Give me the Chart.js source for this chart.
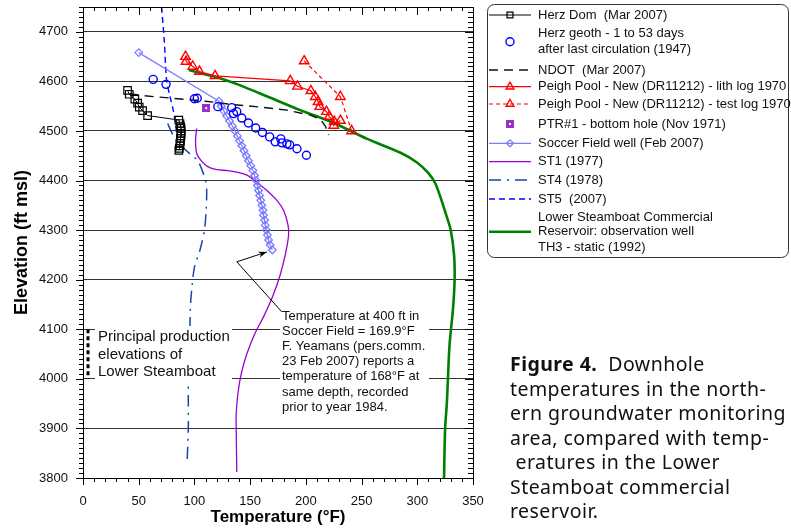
<!DOCTYPE html>
<html><head><meta charset="utf-8">
<script src="https://cdn.jsdelivr.net/npm/chart.js@4.4.0/dist/chart.umd.min.js"></script>
<style>
html,body{margin:0;padding:0;background:#fff;}
#wrap{position:relative;width:791px;height:531px;overflow:hidden;}
#c{position:absolute;left:0;top:0;}
#cap{position:absolute;left:510px;top:352px;width:285px;font-family:"Noto Sans","Open Sans",sans-serif;font-size:19.5px;letter-spacing:0.45px;line-height:24.5px;color:#111;white-space:nowrap;}
</style></head><body>
<div id="wrap"><canvas id="c" width="791" height="531"></canvas>
<div id="cap"><b>Figure 4.</b>&nbsp; Downhole<br>temperatures in the north-<br>ern groundwater monitoring<br>area, compared with temp-<br>&nbsp;eratures in the Lower<br>Steamboat commercial<br>reservoir.</div>
</div>
<script>
// ---------- DATA ----------
const xTicks = [0,50,100,150,200,250,300,350];
const yTicks = [3800,3900,4000,4100,4200,4300,4400,4500,4600,4700];

const herzDomT = [40,41.5,46.5,49,50.5,53.5,58,86,87,87.5,88,88,88,88,87.5,87.5,87,87,86.5,86];
const herzDomE = [4582,4574,4564,4556,4548,4541,4531,4522,4515,4510,4505,4500,4495,4490,4485,4480,4475,4470,4465,4461];

const herzGeoT = [63,74.5,100,102.5,121,133.5,135,138,142.5,148.5,155,161,167.5,172.5,177.5,178.5,183,185.5,192,200.5];
const herzGeoE = [4604,4594,4565,4566,4549,4547,4535,4539,4526,4516,4506,4497,4488,4478,4484,4476,4474,4472,4464,4451];

const ndotT = [42,55,80,110,135,160,183,204,213,217.5,219,220.5];
const ndotE = [4575,4571,4566,4560,4553,4548,4542,4532,4523,4510,4500,4492];

const peighLithT = [92,92.5,98.5,104.5,118.5,186,192.5,204.5,208.5,211,212.5,218.5,221,225.5,225,231];
const peighLithE = [4650,4640,4630,4620,4611,4601,4590,4581,4569,4559,4549,4539,4529,4519,4511,4521];

const peighTestT = [198.5,231,241];
const peighTestE = [4641,4569,4500];

const ptrT = [110.5];
const ptrE = [4546];

const soccerT = [50,122,124,126.5,129,131.5,134,136.5,138.5,140.5,142.5,144.5,146.5,148.5,150.5,152.5,154,155.5,156.5,157.5,158.5,159.5,160.5,161.5,162,163,163.5,164.5,165.5,166.5,168,169.9];
const soccerE = [4658,4560,4550,4540,4530,4520,4510,4500,4490,4480,4470,4460,4450,4440,4430,4420,4410,4400,4390,4380,4370,4360,4350,4340,4330,4320,4310,4300,4290,4280,4270,4260];

const st1T = [102,101,102,106,112,120,130,140,148,156,165,174,180,184,184.5,182,177,170,162,154,147,142,139,137.5,137.5,138];
const st1E = [4505,4480,4455,4440,4428,4422,4420,4416,4410,4396,4380,4360,4340,4310,4290,4255,4210,4165,4125,4090,4050,4010,3970,3930,3900,3812];

const st4T = [76,80,84,90,97,103,107,110,111,110.5,109,105,100,98,96.5,96,95,94.5,94.5,94.5,93.5];
const st4E = [4515,4495,4480,4466,4452,4440,4420,4400,4380,4340,4300,4260,4225,4190,4150,4110,4050,4000,3950,3900,3835];

const st5T = [70.5,73,75,78,81,83,84.5];
const st5E = [4750,4680,4603,4570,4542,4515,4484];

const th3T = [95,100,110,125,140,165,195,225,255,285,300,310,316,321,326,330,333,333.5,332,329,327.5,326.5,325,324];
const th3E = [4623,4620,4614,4605,4593,4570,4542,4516,4484,4456,4436,4415,4395,4365,4330,4300,4250,4200,4140,4070,4000,3950,3900,3800];

const prodT = [4.5,4.5];
const prodE = [4100,4000];

const arrowT = [178.5,138,165];
const arrowE = [4135,4236,4256];

const legendLabels = [
  ['Herz Dom  (Mar 2007)'],
  ['Herz geoth - 1 to 53 days','after last circulation (1947)'],
  ['NDOT  (Mar 2007)'],
  ['Peigh Pool - New (DR11212) - lith log 1970'],
  ['Peigh Pool - New (DR11212) - test log 1970'],
  ['PTR#1 - bottom hole (Nov 1971)'],
  ['Soccer Field well (Feb 2007)'],
  ['ST1 (1977)'],
  ['ST4 (1978)'],
  ['ST5  (2007)'],
  ['Lower Steamboat Commercial','Reservoir: observation well','TH3 - static (1992)']
];
const prodText = ['Principal production','elevations of','Lower Steamboat'];
const noteText = ['Temperature at 400 ft in','Soccer Field = 169.9\u00B0F','F. Yeamans (pers.comm.','23 Feb 2007) reports a','temperature of 168\u00B0F at','same depth, recorded','prior to year 1984.'];

// ---------- BUILD ----------
const FONT = '"Liberation Sans", Arial, Helvetica, sans-serif';
Chart.defaults.font.family = FONT;
const pts = (T,E) => T.map((t,i)=>({x:t,y:E[i]}));

const ptrMarker = document.createElement('canvas');
ptrMarker.width = 8; ptrMarker.height = 8;
(function(){const g=ptrMarker.getContext('2d');g.fillStyle='#9a2fc8';g.fillRect(0,0,8,8);g.fillStyle='#fff';g.fillRect(3,3,2,2);})();

const datasets = [
  {label:legendLabels[0][0], data:pts(herzDomT,herzDomE), showLine:true, borderColor:'#000', borderWidth:1,
   pointStyle:'rect', pointRadius:5.3, pointBorderColor:'#000', pointBackgroundColor:'rgba(0,0,0,0)', pointBorderWidth:1.2},
  {label:legendLabels[1][0], data:pts(herzGeoT,herzGeoE), showLine:false, borderColor:'#0000ff',
   pointStyle:'circle', pointRadius:4, pointBorderColor:'#0000ff', pointBackgroundColor:'rgba(0,0,0,0)', pointBorderWidth:1.4},
  {label:legendLabels[2][0], data:pts(ndotT,ndotE), showLine:true, borderColor:'#111', borderWidth:1.4, borderDash:[9,6], pointRadius:0},
  {label:legendLabels[3][0], data:pts(peighLithT,peighLithE), showLine:true, borderColor:'#ff0000', borderWidth:1.2,
   pointStyle:'triangle', pointRadius:5.5, pointBorderColor:'#ff0000', pointBackgroundColor:'rgba(0,0,0,0)', pointBorderWidth:1.4},
  {label:legendLabels[4][0], data:pts(peighTestT,peighTestE), showLine:true, borderColor:'#ff0000', borderWidth:1.2, borderDash:[4,3],
   pointStyle:'triangle', pointRadius:5.5, pointBorderColor:'#ff0000', pointBackgroundColor:'rgba(0,0,0,0)', pointBorderWidth:1.4},
  {label:legendLabels[5][0], data:pts(ptrT,ptrE), showLine:false, borderColor:'#9a2fc8', pointStyle:ptrMarker, pointRadius:4},
  {label:legendLabels[6][0], data:pts(soccerT,soccerE), showLine:true, borderColor:'#7b7bff', borderWidth:1.2,
   pointStyle:'rectRot', pointRadius:3.8, pointBorderColor:'#7b7bff', pointBackgroundColor:'rgba(0,0,0,0)', pointBorderWidth:1.3},
  {label:legendLabels[7][0], data:pts(st1T,st1E), showLine:true, borderColor:'#9a00d8', borderWidth:1.3, pointRadius:0, tension:0.3},
  {label:legendLabels[8][0], data:pts(st4T,st4E), showLine:true, borderColor:'#1646a8', borderWidth:1.5, borderDash:[12,6,2,6], pointRadius:0, tension:0.3},
  {label:legendLabels[9][0], data:pts(st5T,st5E), showLine:true, borderColor:'#0000ff', borderWidth:1.4, borderDash:[6,4], pointRadius:0, tension:0.3},
  {label:legendLabels[10][0], data:pts(th3T,th3E), showLine:true, borderColor:'#008000', borderWidth:2.6, pointRadius:0, tension:0.3}
];

const legendRowY = [15, 41.7, 70, 86.7, 104, 124, 143.3, 161.7, 180, 199, 231.7];

const customDraw = {
  id:'customDraw',
  afterDatasetsDraw(chart){
    const ctx = chart.ctx, xs = chart.scales.x, ys = chart.scales.y;
    ctx.save();
    ctx.fillStyle = '#fff';
    ctx.fillRect(95, 326, 137, 55);
    ctx.fillRect(84, 325, 12, 4);
    ctx.fillRect(280, 306, 149, 108);
    ctx.fillStyle = '#111';
    ctx.textAlign = 'left'; ctx.textBaseline = 'middle';
    ctx.font = '15px ' + FONT;
    prodText.forEach((t,i)=>ctx.fillText(t, 98, 337 + i*17.5));
    ctx.font = '13px ' + FONT;
    noteText.forEach((t,i)=>ctx.fillText(t, 282, 316.5 + i*15.1));
    ctx.strokeStyle = '#000'; ctx.lineWidth = 3; ctx.setLineDash([4,3]);
    ctx.beginPath();
    ctx.moveTo(xs.getPixelForValue(prodT[0]), ys.getPixelForValue(prodE[0]));
    ctx.lineTo(xs.getPixelForValue(prodT[1]), ys.getPixelForValue(prodE[1]));
    ctx.stroke();
    ctx.setLineDash([]);
    const p = arrowT.map((t,i)=>[xs.getPixelForValue(t), ys.getPixelForValue(arrowE[i])]);
    ctx.lineWidth = 1; ctx.strokeStyle = '#000';
    ctx.beginPath(); ctx.moveTo(p[0][0],p[0][1]); ctx.lineTo(p[1][0],p[1][1]); ctx.lineTo(p[2][0],p[2][1]); ctx.stroke();
    const ang = Math.atan2(p[2][1]-p[1][1], p[2][0]-p[1][0]);
    ctx.fillStyle = '#000'; ctx.beginPath();
    ctx.moveTo(p[2][0],p[2][1]);
    ctx.lineTo(p[2][0]-9*Math.cos(ang-0.35), p[2][1]-9*Math.sin(ang-0.35));
    ctx.lineTo(p[2][0]-6*Math.cos(ang), p[2][1]-6*Math.sin(ang));
    ctx.lineTo(p[2][0]-9*Math.cos(ang+0.35), p[2][1]-9*Math.sin(ang+0.35));
    ctx.closePath(); ctx.fill();
    ctx.restore();
  },
  afterDraw(chart){
    const ctx = chart.ctx, xs = chart.scales.x, ys = chart.scales.y, a = chart.chartArea;
    ctx.save();
    ctx.strokeStyle = '#000'; ctx.lineWidth = 1;
    ctx.strokeRect(Math.round(a.left)+0.5, Math.round(a.top)+0.5, Math.round(a.right-a.left), Math.round(a.bottom-a.top));
    ctx.beginPath();
    for (let t = xs.min; t <= xs.max; t += 10) {
      const px = Math.round(xs.getPixelForValue(t)) + 0.5, major = t % 50 === 0;
      ctx.moveTo(px, a.bottom); ctx.lineTo(px, a.bottom + (major ? 7 : 4));
      ctx.moveTo(px, a.top); ctx.lineTo(px, a.top + (major ? 8 : 4));
    }
    for (let e = ys.min; e <= ys.max; e += 10) {
      const py = Math.round(ys.getPixelForValue(e)) + 0.5, major = e % 100 === 0;
      ctx.moveTo(a.left - (major ? 7 : 4), py); ctx.lineTo(a.left, py);
      ctx.moveTo(a.right - (major ? 8 : 5), py); ctx.lineTo(a.right, py);
    }
    ctx.stroke();
    const L = 487.5, T = 4.5, W = 301, H = 253, r = 7;
    ctx.strokeStyle = '#333';
    ctx.beginPath();
    ctx.moveTo(L+r,T); ctx.lineTo(L+W-r,T); ctx.arcTo(L+W,T,L+W,T+r,r);
    ctx.lineTo(L+W,T+H-r); ctx.arcTo(L+W,T+H,L+W-r,T+H,r);
    ctx.lineTo(L+r,T+H); ctx.arcTo(L,T+H,L,T+H-r,r);
    ctx.lineTo(L,T+r); ctx.arcTo(L,T,L+r,T,r); ctx.closePath(); ctx.stroke();
    chart.data.datasets.forEach((ds,i)=>{
      const y = legendRowY[i];
      ctx.save();
      if (ds.showLine) {
        ctx.strokeStyle = ds.borderColor; ctx.lineWidth = ds.borderWidth || 1;
        ctx.setLineDash(ds.borderDash || []);
        ctx.beginPath(); ctx.moveTo(489, y); ctx.lineTo(531, y); ctx.stroke();
        ctx.setLineDash([]);
      }
      if (ds.pointRadius > 0) {
        ctx.strokeStyle = ds.pointBorderColor || ds.borderColor;
        ctx.fillStyle = ds.pointBackgroundColor || ds.borderColor;
        ctx.lineWidth = ds.pointBorderWidth || 1;
        let rad = ds.pointRadius;
        if (ds.pointStyle === 'rect') rad = 4.2;
        if (ds.pointStyle === 'triangle') rad = 4.5;
        if (ds.pointStyle === 'rectRot') rad = 3.5;
        Chart.helpers.drawPoint(ctx, {pointStyle: ds.pointStyle, rotation: 0, radius: rad, borderWidth: ds.pointBorderWidth || 1}, 510, y);
      }
      ctx.restore();
      const lines = legendLabels[i];
      ctx.fillStyle = '#111'; ctx.font = '13px ' + FONT; ctx.textAlign = 'left'; ctx.textBaseline = 'middle';
      const off = lines.length === 1 ? [0] : lines.length === 2 ? [-7.8, 8.2] : [-14.5, 0, 15.5];
      lines.forEach((t,k)=>ctx.fillText(t, 538, y + off[k]));
    });
    ctx.restore();
  }
};

new Chart(document.getElementById('c'), {
  type: 'scatter',
  data: { datasets },
  options: {
    responsive: false, animation: false,
    layout: { padding: { left: 0, right: 318, top: 7, bottom: 0 } },
    plugins: { legend: { display: false }, tooltip: { enabled: false } },
    elements: { line: { fill: false } },
    scales: {
      x: {
        type: 'linear', position: 'bottom', min: 0, max: 350,
        afterBuildTicks: s => { s.ticks = xTicks.map(v => ({ value: v })); },
        grid: { display: false, drawTicks: false },
        border: { display: true, color: '#000' },
        ticks: { font: { size: 13 }, color: '#111', padding: 16, callback: v => String(v) },
        title: { display: true, text: 'Temperature (\u00B0F)', color: '#000', font: { size: 17, weight: 'bold' }, padding: { top: 0, bottom: 3 } },
        afterFit: s => { s.height = 53; s.paddingLeft = 0; s.paddingRight = 0; }
      },
      y: {
        type: 'linear', min: 3800, max: 4750,
        afterBuildTicks: s => { s.ticks = yTicks.map(v => ({ value: v })); },
        grid: { color: '#333', lineWidth: 1, drawTicks: false },
        border: { display: true, color: '#000' },
        ticks: { font: { size: 13 }, color: '#111', padding: 15, callback: v => String(v) },
        title: { display: true, text: 'Elevation (ft msl)', color: '#000', font: { size: 18, weight: 'bold' }, padding: { top: 11, bottom: 0 } },
        afterFit: s => { s.width = 83; s.paddingTop = 0; s.paddingBottom = 0; }
      }
    }
  },
  plugins: [customDraw]
});
</script>
</body></html>
